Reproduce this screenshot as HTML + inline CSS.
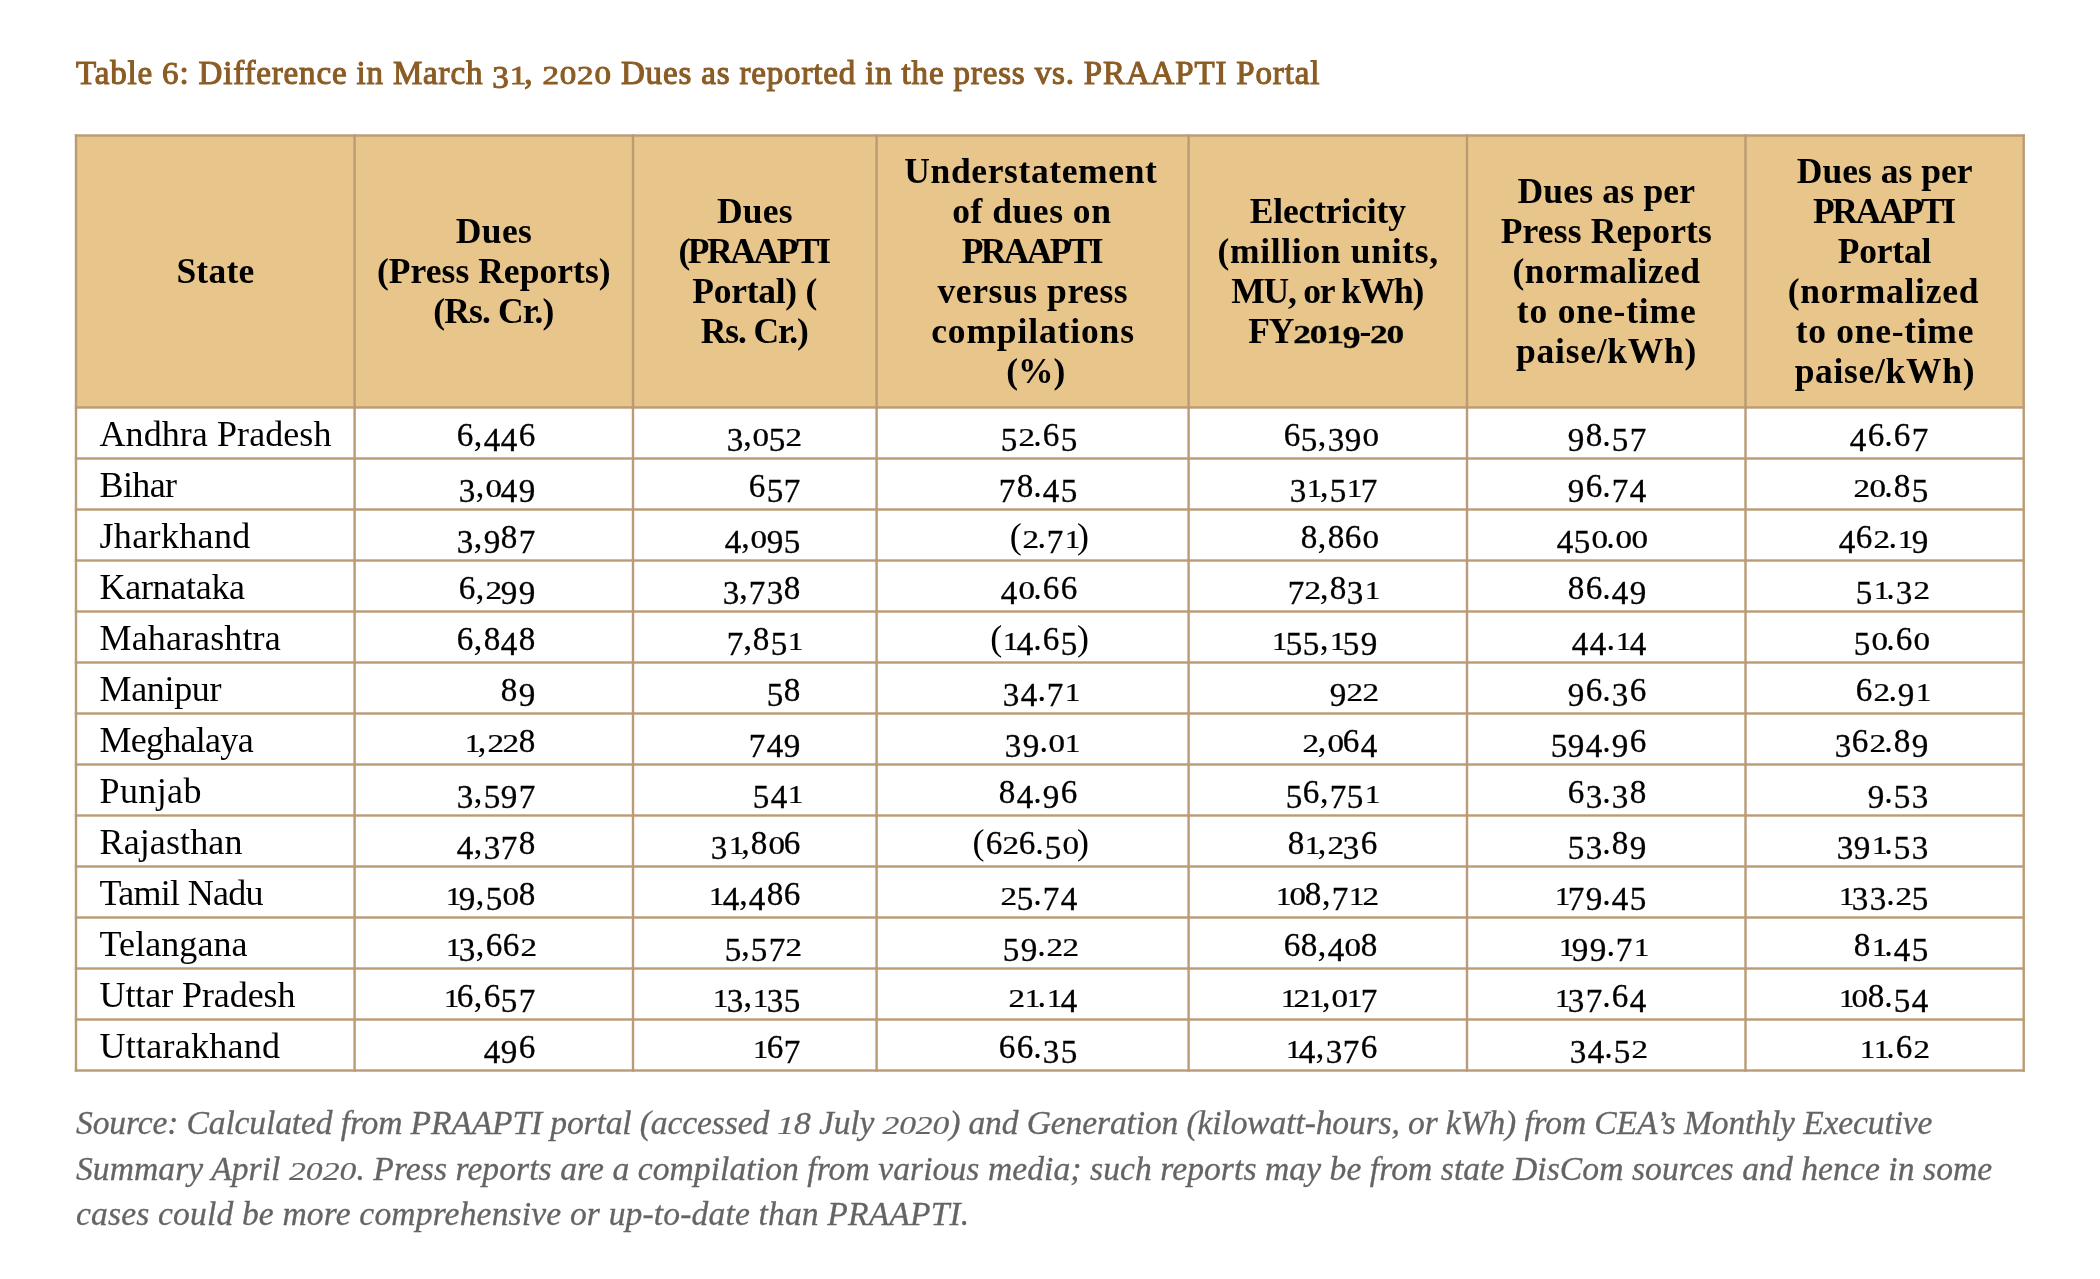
<!DOCTYPE html>
<html><head><meta charset="utf-8"><title>Table 6</title>
<style>
html,body{margin:0;padding:0;background:#fff;}
body{width:2100px;height:1279px;position:relative;overflow:hidden;font-family:"Liberation Serif",serif;}
#w{position:absolute;left:0;top:0;width:2100px;height:1279px;will-change:transform;}
.a{position:absolute;white-space:nowrap;}
.ln{position:absolute;background:#BA9B75;}
.hd{position:absolute;font-weight:bold;text-align:center;color:#000000;}
.c{position:absolute;white-space:nowrap;color:#000000;}
.c .dx,.c .da,.c .dd{-webkit-text-stroke:0.35px #000;}
.hd .dx{}
.h{display:inline-block;width:0;}
.dx,.da,.dd{display:inline-block;line-height:1em;transform-origin:50% 0.8375em;letter-spacing:-0.014em;}
.n1{letter-spacing:-0.13em;}.n0{letter-spacing:-0.07em;}
.ttl .dx,.ttl .da,.ttl .dd,.ft .dx,.ft .da,.ft .dd{letter-spacing:inherit;}
.ft .dx,.fy .dx{transform:scale(1,0.72);}.ft .da,.fy .da{transform:scale(1,0.95);}.ft .dd,.fy .dd{transform:translateY(0.139em) scale(1,0.905);}
.fy .dx,.fy .da,.fy .dd{letter-spacing:inherit;}
.ttl .dx{transform:scale(1,0.76);}.ttl .da{transform:scale(1,0.97);}.ttl .dd{transform:translateY(0.13em) scale(1,0.93);}
.ttl .n1{letter-spacing:-0.06em;transform:scale(1,0.76);}
.dx{transform:scale(0.92,0.70);}
.da{transform:scale(0.92,0.95);}
.dd{transform:translateY(0.15em) scale(0.92,0.95);}
.n1{transform:scale(0.85,0.70);}
</style></head><body><div id="w">

<div class="a ttl" style="left:76px;top:52.56px;font-size:33.00px;line-height:40px;font-weight:normal;-webkit-text-stroke:1.1px #8B5C24;letter-spacing:0.840px;color:#8B5C24;">Table <span class="da">6</span>: Difference in March <span class="dd">3</span><span class="dx n1">1</span>, <span class="dx">2</span><span class="dx">0</span><span class="dx">2</span><span class="dx">0</span> Dues as reported in the press vs. PRAAPTI Portal</div>
<div class="a" style="left:76.0px;top:135.5px;width:1947.7px;height:272.0px;background:#E8C58B;"></div>
<svg class="a" style="left:0;top:0;" width="2100" height="1279" viewBox="0 0 2100 1279"><g fill="#BA9B75"><rect x="74.80" y="134.30" width="2.40" height="937.40"/><rect x="353.40" y="134.30" width="2.40" height="937.40"/><rect x="631.80" y="134.30" width="2.40" height="937.40"/><rect x="875.40" y="134.30" width="2.40" height="937.40"/><rect x="1187.40" y="134.30" width="2.40" height="937.40"/><rect x="1465.80" y="134.30" width="2.40" height="937.40"/><rect x="1744.30" y="134.30" width="2.40" height="937.40"/><rect x="2022.50" y="134.30" width="2.40" height="937.40"/><rect x="74.80" y="134.30" width="1950.10" height="2.40"/><rect x="74.80" y="406.30" width="1950.10" height="2.40"/><rect x="74.80" y="457.30" width="1950.10" height="2.40"/><rect x="74.80" y="508.30" width="1950.10" height="2.40"/><rect x="74.80" y="559.30" width="1950.10" height="2.40"/><rect x="74.80" y="610.30" width="1950.10" height="2.40"/><rect x="74.80" y="661.30" width="1950.10" height="2.40"/><rect x="74.80" y="712.30" width="1950.10" height="2.40"/><rect x="74.80" y="763.30" width="1950.10" height="2.40"/><rect x="74.80" y="814.30" width="1950.10" height="2.40"/><rect x="74.80" y="865.30" width="1950.10" height="2.40"/><rect x="74.80" y="916.30" width="1950.10" height="2.40"/><rect x="74.80" y="967.30" width="1950.10" height="2.40"/><rect x="74.80" y="1018.30" width="1950.10" height="2.40"/><rect x="74.80" y="1069.30" width="1950.10" height="2.40"/></g></svg>
<div class="c" style="left:215.41px;width:0;top:251.32px;font-size:35.50px;line-height:40px;font-weight:bold;"><span style="position:absolute;left:0;transform:translateX(-50%);letter-spacing:0.225px;">State</span></div>
<div class="c" style="left:494.00px;width:0;top:211.32px;font-size:35.50px;line-height:40px;font-weight:bold;"><span style="position:absolute;left:0;transform:translateX(-50%);letter-spacing:0.400px;">Dues</span></div>
<div class="c" style="left:493.82px;width:0;top:251.32px;font-size:35.50px;line-height:40px;font-weight:bold;"><span style="position:absolute;left:0;transform:translateX(-50%);letter-spacing:0.050px;">(Press Reports)</span></div>
<div class="c" style="left:493.38px;width:0;top:291.32px;font-size:35.50px;line-height:40px;font-weight:bold;"><span style="position:absolute;left:0;transform:translateX(-50%);letter-spacing:-0.850px;">(Rs. Cr.)</span></div>
<div class="c" style="left:754.90px;width:0;top:191.32px;font-size:35.50px;line-height:40px;font-weight:bold;"><span style="position:absolute;left:0;transform:translateX(-50%);letter-spacing:0.200px;">Dues</span></div>
<div class="c" style="left:753.60px;width:0;top:231.32px;font-size:35.50px;line-height:40px;font-weight:bold;"><span style="position:absolute;left:0;transform:translateX(-50%);letter-spacing:-2.400px;">(PRAAPTI</span></div>
<div class="c" style="left:754.66px;width:0;top:271.32px;font-size:35.50px;line-height:40px;font-weight:bold;"><span style="position:absolute;left:0;transform:translateX(-50%);letter-spacing:-0.275px;">Portal) (</span></div>
<div class="c" style="left:754.22px;width:0;top:311.32px;font-size:35.50px;line-height:40px;font-weight:bold;"><span style="position:absolute;left:0;transform:translateX(-50%);letter-spacing:-1.157px;">Rs. Cr.)</span></div>
<div class="c" style="left:1030.91px;width:0;top:151.32px;font-size:35.50px;line-height:40px;font-weight:bold;"><span style="position:absolute;left:0;transform:translateX(-50%);letter-spacing:0.615px;">Understatement</span></div>
<div class="c" style="left:1031.86px;width:0;top:191.32px;font-size:35.50px;line-height:40px;font-weight:bold;"><span style="position:absolute;left:0;transform:translateX(-50%);letter-spacing:0.522px;">of dues on</span></div>
<div class="c" style="left:1031.27px;width:0;top:231.32px;font-size:35.50px;line-height:40px;font-weight:bold;"><span style="position:absolute;left:0;transform:translateX(-50%);letter-spacing:-2.667px;">PRAAPTI</span></div>
<div class="c" style="left:1032.89px;width:0;top:271.32px;font-size:35.50px;line-height:40px;font-weight:bold;"><span style="position:absolute;left:0;transform:translateX(-50%);letter-spacing:0.582px;">versus press</span></div>
<div class="c" style="left:1033.04px;width:0;top:311.32px;font-size:35.50px;line-height:40px;font-weight:bold;"><span style="position:absolute;left:0;transform:translateX(-50%);letter-spacing:0.873px;">compilations</span></div>
<div class="c" style="left:1035.72px;width:0;top:351.32px;font-size:35.50px;line-height:40px;font-weight:bold;"><span style="position:absolute;left:0;transform:translateX(-50%);letter-spacing:-0.150px;">(%)</span></div>
<div class="c" style="left:1327.73px;width:0;top:191.32px;font-size:35.50px;line-height:40px;font-weight:bold;"><span style="position:absolute;left:0;transform:translateX(-50%);letter-spacing:-0.140px;">Electricity</span></div>
<div class="c" style="left:1328.15px;width:0;top:231.32px;font-size:35.50px;line-height:40px;font-weight:bold;"><span style="position:absolute;left:0;transform:translateX(-50%);letter-spacing:0.693px;">(million units,</span></div>
<div class="c" style="left:1327.17px;width:0;top:271.32px;font-size:35.50px;line-height:40px;font-weight:bold;"><span style="position:absolute;left:0;transform:translateX(-50%);letter-spacing:-1.250px;">MU, or kWh)</span></div>
<div class="c" style="left:1325.70px;width:0;top:311.32px;font-size:35.50px;line-height:40px;font-weight:bold;"><span style="position:absolute;left:0;transform:translateX(-50%);letter-spacing:-1.200px;"><span class="fy">FY<span class="dx">2</span><span class="dx">0</span><span class="dx">1</span><span class="dd">9</span>-<span class="dx">2</span><span class="dx">0</span></span></span></div>
<div class="c" style="left:1606.36px;width:0;top:171.32px;font-size:35.50px;line-height:40px;font-weight:bold;"><span style="position:absolute;left:0;transform:translateX(-50%);letter-spacing:0.210px;">Dues as per</span></div>
<div class="c" style="left:1606.33px;width:0;top:211.32px;font-size:35.50px;line-height:40px;font-weight:bold;"><span style="position:absolute;left:0;transform:translateX(-50%);letter-spacing:0.158px;">Press Reports</span></div>
<div class="c" style="left:1606.45px;width:0;top:251.32px;font-size:35.50px;line-height:40px;font-weight:bold;"><span style="position:absolute;left:0;transform:translateX(-50%);letter-spacing:0.410px;">(normalized</span></div>
<div class="c" style="left:1606.67px;width:0;top:291.32px;font-size:35.50px;line-height:40px;font-weight:bold;"><span style="position:absolute;left:0;transform:translateX(-50%);letter-spacing:0.840px;">to one-time</span></div>
<div class="c" style="left:1606.62px;width:0;top:331.32px;font-size:35.50px;line-height:40px;font-weight:bold;"><span style="position:absolute;left:0;transform:translateX(-50%);letter-spacing:0.744px;">paise/kWh)</span></div>
<div class="c" style="left:1884.61px;width:0;top:151.32px;font-size:35.50px;line-height:40px;font-weight:bold;"><span style="position:absolute;left:0;transform:translateX(-50%);letter-spacing:0.020px;">Dues as per</span></div>
<div class="c" style="left:1883.37px;width:0;top:191.32px;font-size:35.50px;line-height:40px;font-weight:bold;"><span style="position:absolute;left:0;transform:translateX(-50%);letter-spacing:-2.467px;">PRAAPTI</span></div>
<div class="c" style="left:1884.50px;width:0;top:231.32px;font-size:35.50px;line-height:40px;font-weight:bold;"><span style="position:absolute;left:0;transform:translateX(-50%);letter-spacing:-0.200px;">Portal</span></div>
<div class="c" style="left:1883.46px;width:0;top:271.32px;font-size:35.50px;line-height:40px;font-weight:bold;"><span style="position:absolute;left:0;transform:translateX(-50%);letter-spacing:0.730px;">(normalized</span></div>
<div class="c" style="left:1884.95px;width:0;top:311.32px;font-size:35.50px;line-height:40px;font-weight:bold;"><span style="position:absolute;left:0;transform:translateX(-50%);letter-spacing:0.710px;">to one-time</span></div>
<div class="c" style="left:1884.95px;width:0;top:351.32px;font-size:35.50px;line-height:40px;font-weight:bold;"><span style="position:absolute;left:0;transform:translateX(-50%);letter-spacing:0.700px;">paise/kWh)</span></div>
<div class="c" style="left:99.5px;letter-spacing:0.077px;top:414.05px;font-size:36.00px;line-height:40px;">Andhra Pradesh</div>
<div class="c" style="right:1565.00px;top:414.05px;font-size:36.00px;line-height:40px;"><span class="da">6</span>,<span class="dd">4</span><span class="dd">4</span><span class="da">6</span></div>
<div class="c" style="right:1299.50px;top:414.05px;font-size:36.00px;line-height:40px;"><span class="dd">3</span>,<span class="dx n0">0</span><span class="dd">5</span><span class="dx n0">2</span></div>
<div class="c" style="right:1023.00px;top:414.05px;font-size:36.00px;line-height:40px;"><span class="dd">5</span><span class="dx n0">2</span>.<span class="da">6</span><span class="dd">5</span></div>
<div class="c" style="right:723.00px;top:414.05px;font-size:36.00px;line-height:40px;"><span class="da">6</span><span class="dd">5</span>,<span class="dd">3</span><span class="dd">9</span><span class="dx n0">0</span></div>
<div class="c" style="right:454.00px;top:414.05px;font-size:36.00px;line-height:40px;"><span class="dd">9</span><span class="da">8</span>.<span class="dd">5</span><span class="dd">7</span></div>
<div class="c" style="right:172.00px;top:414.05px;font-size:36.00px;line-height:40px;"><span class="dd">4</span><span class="da">6</span>.<span class="da">6</span><span class="dd">7</span></div>
<div class="c" style="left:99.5px;letter-spacing:-0.600px;top:465.05px;font-size:36.00px;line-height:40px;">Bihar</div>
<div class="c" style="right:1565.00px;top:465.05px;font-size:36.00px;line-height:40px;"><span class="dd">3</span>,<span class="dx n0">0</span><span class="dd">4</span><span class="dd">9</span></div>
<div class="c" style="right:1299.50px;top:465.05px;font-size:36.00px;line-height:40px;"><span class="da">6</span><span class="dd">5</span><span class="dd">7</span></div>
<div class="c" style="right:1023.00px;top:465.05px;font-size:36.00px;line-height:40px;"><span class="dd">7</span><span class="da">8</span>.<span class="dd">4</span><span class="dd">5</span></div>
<div class="c" style="right:723.00px;top:465.05px;font-size:36.00px;line-height:40px;"><span class="dd">3</span><span class="dx n1">1</span>,<span class="dd">5</span><span class="dx n1">1</span><span class="dd">7</span></div>
<div class="c" style="right:454.00px;top:465.05px;font-size:36.00px;line-height:40px;"><span class="dd">9</span><span class="da">6</span>.<span class="dd">7</span><span class="dd">4</span></div>
<div class="c" style="right:172.00px;top:465.05px;font-size:36.00px;line-height:40px;"><span class="dx n0">2</span><span class="dx n0">0</span>.<span class="da">8</span><span class="dd">5</span></div>
<div class="c" style="left:99.5px;letter-spacing:0.350px;top:516.05px;font-size:36.00px;line-height:40px;">Jharkhand</div>
<div class="c" style="right:1565.00px;top:516.05px;font-size:36.00px;line-height:40px;"><span class="dd">3</span>,<span class="dd">9</span><span class="da">8</span><span class="dd">7</span></div>
<div class="c" style="right:1299.50px;top:516.05px;font-size:36.00px;line-height:40px;"><span class="dd">4</span>,<span class="dx n0">0</span><span class="dd">9</span><span class="dd">5</span></div>
<div class="c" style="right:1023.00px;top:516.05px;font-size:36.00px;line-height:40px;">(<span class="dx n0">2</span>.<span class="dd">7</span><span class="dx n1">1</span><span class="h">)</span></div>
<div class="c" style="right:723.00px;top:516.05px;font-size:36.00px;line-height:40px;"><span class="da">8</span>,<span class="da">8</span><span class="da">6</span><span class="dx n0">0</span></div>
<div class="c" style="right:454.00px;top:516.05px;font-size:36.00px;line-height:40px;"><span class="dd">4</span><span class="dd">5</span><span class="dx n0">0</span>.<span class="dx n0">0</span><span class="dx n0">0</span></div>
<div class="c" style="right:172.00px;top:516.05px;font-size:36.00px;line-height:40px;"><span class="dd">4</span><span class="da">6</span><span class="dx n0">2</span>.<span class="dx n1">1</span><span class="dd">9</span></div>
<div class="c" style="left:99.5px;letter-spacing:-0.288px;top:567.05px;font-size:36.00px;line-height:40px;">Karnataka</div>
<div class="c" style="right:1565.00px;top:567.05px;font-size:36.00px;line-height:40px;"><span class="da">6</span>,<span class="dx n0">2</span><span class="dd">9</span><span class="dd">9</span></div>
<div class="c" style="right:1299.50px;top:567.05px;font-size:36.00px;line-height:40px;"><span class="dd">3</span>,<span class="dd">7</span><span class="dd">3</span><span class="da">8</span></div>
<div class="c" style="right:1023.00px;top:567.05px;font-size:36.00px;line-height:40px;"><span class="dd">4</span><span class="dx n0">0</span>.<span class="da">6</span><span class="da">6</span></div>
<div class="c" style="right:723.00px;top:567.05px;font-size:36.00px;line-height:40px;"><span class="dd">7</span><span class="dx n0">2</span>,<span class="da">8</span><span class="dd">3</span><span class="dx n1">1</span></div>
<div class="c" style="right:454.00px;top:567.05px;font-size:36.00px;line-height:40px;"><span class="da">8</span><span class="da">6</span>.<span class="dd">4</span><span class="dd">9</span></div>
<div class="c" style="right:172.00px;top:567.05px;font-size:36.00px;line-height:40px;"><span class="dd">5</span><span class="dx n1">1</span>.<span class="dd">3</span><span class="dx n0">2</span></div>
<div class="c" style="left:99.5px;letter-spacing:0.130px;top:618.05px;font-size:36.00px;line-height:40px;">Maharashtra</div>
<div class="c" style="right:1565.00px;top:618.05px;font-size:36.00px;line-height:40px;"><span class="da">6</span>,<span class="da">8</span><span class="dd">4</span><span class="da">8</span></div>
<div class="c" style="right:1299.50px;top:618.05px;font-size:36.00px;line-height:40px;"><span class="dd">7</span>,<span class="da">8</span><span class="dd">5</span><span class="dx n1">1</span></div>
<div class="c" style="right:1023.00px;top:618.05px;font-size:36.00px;line-height:40px;">(<span class="dx n1">1</span><span class="dd">4</span>.<span class="da">6</span><span class="dd">5</span><span class="h">)</span></div>
<div class="c" style="right:723.00px;top:618.05px;font-size:36.00px;line-height:40px;"><span class="dx n1">1</span><span class="dd">5</span><span class="dd">5</span>,<span class="dx n1">1</span><span class="dd">5</span><span class="dd">9</span></div>
<div class="c" style="right:454.00px;top:618.05px;font-size:36.00px;line-height:40px;"><span class="dd">4</span><span class="dd">4</span>.<span class="dx n1">1</span><span class="dd">4</span></div>
<div class="c" style="right:172.00px;top:618.05px;font-size:36.00px;line-height:40px;"><span class="dd">5</span><span class="dx n0">0</span>.<span class="da">6</span><span class="dx n0">0</span></div>
<div class="c" style="left:99.5px;letter-spacing:-0.333px;top:669.05px;font-size:36.00px;line-height:40px;">Manipur</div>
<div class="c" style="right:1565.00px;top:669.05px;font-size:36.00px;line-height:40px;"><span class="da">8</span><span class="dd">9</span></div>
<div class="c" style="right:1299.50px;top:669.05px;font-size:36.00px;line-height:40px;"><span class="dd">5</span><span class="da">8</span></div>
<div class="c" style="right:1023.00px;top:669.05px;font-size:36.00px;line-height:40px;"><span class="dd">3</span><span class="dd">4</span>.<span class="dd">7</span><span class="dx n1">1</span></div>
<div class="c" style="right:723.00px;top:669.05px;font-size:36.00px;line-height:40px;"><span class="dd">9</span><span class="dx n0">2</span><span class="dx n0">2</span></div>
<div class="c" style="right:454.00px;top:669.05px;font-size:36.00px;line-height:40px;"><span class="dd">9</span><span class="da">6</span>.<span class="dd">3</span><span class="da">6</span></div>
<div class="c" style="right:172.00px;top:669.05px;font-size:36.00px;line-height:40px;"><span class="da">6</span><span class="dx n0">2</span>.<span class="dd">9</span><span class="dx n1">1</span></div>
<div class="c" style="left:99.5px;letter-spacing:-0.725px;top:720.05px;font-size:36.00px;line-height:40px;">Meghalaya</div>
<div class="c" style="right:1565.00px;top:720.05px;font-size:36.00px;line-height:40px;"><span class="dx n1">1</span>,<span class="dx n0">2</span><span class="dx n0">2</span><span class="da">8</span></div>
<div class="c" style="right:1299.50px;top:720.05px;font-size:36.00px;line-height:40px;"><span class="dd">7</span><span class="dd">4</span><span class="dd">9</span></div>
<div class="c" style="right:1023.00px;top:720.05px;font-size:36.00px;line-height:40px;"><span class="dd">3</span><span class="dd">9</span>.<span class="dx n0">0</span><span class="dx n1">1</span></div>
<div class="c" style="right:723.00px;top:720.05px;font-size:36.00px;line-height:40px;"><span class="dx n0">2</span>,<span class="dx n0">0</span><span class="da">6</span><span class="dd">4</span></div>
<div class="c" style="right:454.00px;top:720.05px;font-size:36.00px;line-height:40px;"><span class="dd">5</span><span class="dd">9</span><span class="dd">4</span>.<span class="dd">9</span><span class="da">6</span></div>
<div class="c" style="right:172.00px;top:720.05px;font-size:36.00px;line-height:40px;"><span class="dd">3</span><span class="da">6</span><span class="dx n0">2</span>.<span class="da">8</span><span class="dd">9</span></div>
<div class="c" style="left:99.5px;letter-spacing:0.400px;top:771.05px;font-size:36.00px;line-height:40px;">Punjab</div>
<div class="c" style="right:1565.00px;top:771.05px;font-size:36.00px;line-height:40px;"><span class="dd">3</span>,<span class="dd">5</span><span class="dd">9</span><span class="dd">7</span></div>
<div class="c" style="right:1299.50px;top:771.05px;font-size:36.00px;line-height:40px;"><span class="dd">5</span><span class="dd">4</span><span class="dx n1">1</span></div>
<div class="c" style="right:1023.00px;top:771.05px;font-size:36.00px;line-height:40px;"><span class="da">8</span><span class="dd">4</span>.<span class="dd">9</span><span class="da">6</span></div>
<div class="c" style="right:723.00px;top:771.05px;font-size:36.00px;line-height:40px;"><span class="dd">5</span><span class="da">6</span>,<span class="dd">7</span><span class="dd">5</span><span class="dx n1">1</span></div>
<div class="c" style="right:454.00px;top:771.05px;font-size:36.00px;line-height:40px;"><span class="da">6</span><span class="dd">3</span>.<span class="dd">3</span><span class="da">8</span></div>
<div class="c" style="right:172.00px;top:771.05px;font-size:36.00px;line-height:40px;"><span class="dd">9</span>.<span class="dd">5</span><span class="dd">3</span></div>
<div class="c" style="left:99.5px;letter-spacing:0.125px;top:822.05px;font-size:36.00px;line-height:40px;">Rajasthan</div>
<div class="c" style="right:1565.00px;top:822.05px;font-size:36.00px;line-height:40px;"><span class="dd">4</span>,<span class="dd">3</span><span class="dd">7</span><span class="da">8</span></div>
<div class="c" style="right:1299.50px;top:822.05px;font-size:36.00px;line-height:40px;"><span class="dd">3</span><span class="dx n1">1</span>,<span class="da">8</span><span class="dx n0">0</span><span class="da">6</span></div>
<div class="c" style="right:1023.00px;top:822.05px;font-size:36.00px;line-height:40px;">(<span class="da">6</span><span class="dx n0">2</span><span class="da">6</span>.<span class="dd">5</span><span class="dx n0">0</span><span class="h">)</span></div>
<div class="c" style="right:723.00px;top:822.05px;font-size:36.00px;line-height:40px;"><span class="da">8</span><span class="dx n1">1</span>,<span class="dx n0">2</span><span class="dd">3</span><span class="da">6</span></div>
<div class="c" style="right:454.00px;top:822.05px;font-size:36.00px;line-height:40px;"><span class="dd">5</span><span class="dd">3</span>.<span class="da">8</span><span class="dd">9</span></div>
<div class="c" style="right:172.00px;top:822.05px;font-size:36.00px;line-height:40px;"><span class="dd">3</span><span class="dd">9</span><span class="dx n1">1</span>.<span class="dd">5</span><span class="dd">3</span></div>
<div class="c" style="left:99.5px;letter-spacing:-0.722px;top:873.05px;font-size:36.00px;line-height:40px;">Tamil Nadu</div>
<div class="c" style="right:1565.00px;top:873.05px;font-size:36.00px;line-height:40px;"><span class="dx n1">1</span><span class="dd">9</span>,<span class="dd">5</span><span class="dx n0">0</span><span class="da">8</span></div>
<div class="c" style="right:1299.50px;top:873.05px;font-size:36.00px;line-height:40px;"><span class="dx n1">1</span><span class="dd">4</span>,<span class="dd">4</span><span class="da">8</span><span class="da">6</span></div>
<div class="c" style="right:1023.00px;top:873.05px;font-size:36.00px;line-height:40px;"><span class="dx n0">2</span><span class="dd">5</span>.<span class="dd">7</span><span class="dd">4</span></div>
<div class="c" style="right:723.00px;top:873.05px;font-size:36.00px;line-height:40px;"><span class="dx n1">1</span><span class="dx n0">0</span><span class="da">8</span>,<span class="dd">7</span><span class="dx n1">1</span><span class="dx n0">2</span></div>
<div class="c" style="right:454.00px;top:873.05px;font-size:36.00px;line-height:40px;"><span class="dx n1">1</span><span class="dd">7</span><span class="dd">9</span>.<span class="dd">4</span><span class="dd">5</span></div>
<div class="c" style="right:172.00px;top:873.05px;font-size:36.00px;line-height:40px;"><span class="dx n1">1</span><span class="dd">3</span><span class="dd">3</span>.<span class="dx n0">2</span><span class="dd">5</span></div>
<div class="c" style="left:99.5px;letter-spacing:0.087px;top:924.05px;font-size:36.00px;line-height:40px;">Telangana</div>
<div class="c" style="right:1565.00px;top:924.05px;font-size:36.00px;line-height:40px;"><span class="dx n1">1</span><span class="dd">3</span>,<span class="da">6</span><span class="da">6</span><span class="dx n0">2</span></div>
<div class="c" style="right:1299.50px;top:924.05px;font-size:36.00px;line-height:40px;"><span class="dd">5</span>,<span class="dd">5</span><span class="dd">7</span><span class="dx n0">2</span></div>
<div class="c" style="right:1023.00px;top:924.05px;font-size:36.00px;line-height:40px;"><span class="dd">5</span><span class="dd">9</span>.<span class="dx n0">2</span><span class="dx n0">2</span></div>
<div class="c" style="right:723.00px;top:924.05px;font-size:36.00px;line-height:40px;"><span class="da">6</span><span class="da">8</span>,<span class="dd">4</span><span class="dx n0">0</span><span class="da">8</span></div>
<div class="c" style="right:454.00px;top:924.05px;font-size:36.00px;line-height:40px;"><span class="dx n1">1</span><span class="dd">9</span><span class="dd">9</span>.<span class="dd">7</span><span class="dx n1">1</span></div>
<div class="c" style="right:172.00px;top:924.05px;font-size:36.00px;line-height:40px;"><span class="da">8</span><span class="dx n1">1</span>.<span class="dd">4</span><span class="dd">5</span></div>
<div class="c" style="left:99.5px;letter-spacing:-0.083px;top:975.05px;font-size:36.00px;line-height:40px;">Uttar Pradesh</div>
<div class="c" style="right:1565.00px;top:975.05px;font-size:36.00px;line-height:40px;"><span class="dx n1">1</span><span class="da">6</span>,<span class="da">6</span><span class="dd">5</span><span class="dd">7</span></div>
<div class="c" style="right:1299.50px;top:975.05px;font-size:36.00px;line-height:40px;"><span class="dx n1">1</span><span class="dd">3</span>,<span class="dx n1">1</span><span class="dd">3</span><span class="dd">5</span></div>
<div class="c" style="right:1023.00px;top:975.05px;font-size:36.00px;line-height:40px;"><span class="dx n0">2</span><span class="dx n1">1</span>.<span class="dx n1">1</span><span class="dd">4</span></div>
<div class="c" style="right:723.00px;top:975.05px;font-size:36.00px;line-height:40px;"><span class="dx n1">1</span><span class="dx n0">2</span><span class="dx n1">1</span>,<span class="dx n0">0</span><span class="dx n1">1</span><span class="dd">7</span></div>
<div class="c" style="right:454.00px;top:975.05px;font-size:36.00px;line-height:40px;"><span class="dx n1">1</span><span class="dd">3</span><span class="dd">7</span>.<span class="da">6</span><span class="dd">4</span></div>
<div class="c" style="right:172.00px;top:975.05px;font-size:36.00px;line-height:40px;"><span class="dx n1">1</span><span class="dx n0">0</span><span class="da">8</span>.<span class="dd">5</span><span class="dd">4</span></div>
<div class="c" style="left:99.5px;letter-spacing:0.260px;top:1026.05px;font-size:36.00px;line-height:40px;">Uttarakhand</div>
<div class="c" style="right:1565.00px;top:1026.05px;font-size:36.00px;line-height:40px;"><span class="dd">4</span><span class="dd">9</span><span class="da">6</span></div>
<div class="c" style="right:1299.50px;top:1026.05px;font-size:36.00px;line-height:40px;"><span class="dx n1">1</span><span class="da">6</span><span class="dd">7</span></div>
<div class="c" style="right:1023.00px;top:1026.05px;font-size:36.00px;line-height:40px;"><span class="da">6</span><span class="da">6</span>.<span class="dd">3</span><span class="dd">5</span></div>
<div class="c" style="right:723.00px;top:1026.05px;font-size:36.00px;line-height:40px;"><span class="dx n1">1</span><span class="dd">4</span>,<span class="dd">3</span><span class="dd">7</span><span class="da">6</span></div>
<div class="c" style="right:454.00px;top:1026.05px;font-size:36.00px;line-height:40px;"><span class="dd">3</span><span class="dd">4</span>.<span class="dd">5</span><span class="dx n0">2</span></div>
<div class="c" style="right:172.00px;top:1026.05px;font-size:36.00px;line-height:40px;"><span class="dx n1">1</span><span class="dx n1">1</span>.<span class="da">6</span><span class="dx n0">2</span></div>
<div class="a ft" style="left:76px;top:1102.56px;font-size:33.60px;line-height:40px;font-style:italic;letter-spacing:-0.138px;-webkit-text-stroke:0.3px #636466;color:#636466;">Source: Calculated from PRAAPTI portal (accessed <span class="dx">1</span><span class="da">8</span> July <span class="dx">2</span><span class="dx">0</span><span class="dx">2</span><span class="dx">0</span>) and Generation (kilowatt-hours, or kWh) from CEA’s Monthly Executive</div>
<div class="a ft" style="left:76px;top:1148.66px;font-size:33.60px;line-height:40px;font-style:italic;letter-spacing:0.067px;-webkit-text-stroke:0.3px #636466;color:#636466;">Summary April <span class="dx">2</span><span class="dx">0</span><span class="dx">2</span><span class="dx">0</span>. Press reports are a compilation from various media; such reports may be from state DisCom sources and hence in some</div>
<div class="a ft" style="left:76px;top:1194.46px;font-size:33.60px;line-height:40px;font-style:italic;letter-spacing:0.148px;-webkit-text-stroke:0.3px #636466;color:#636466;">cases could be more comprehensive or up-to-date than PRAAPTI.</div>
</div></body></html>
